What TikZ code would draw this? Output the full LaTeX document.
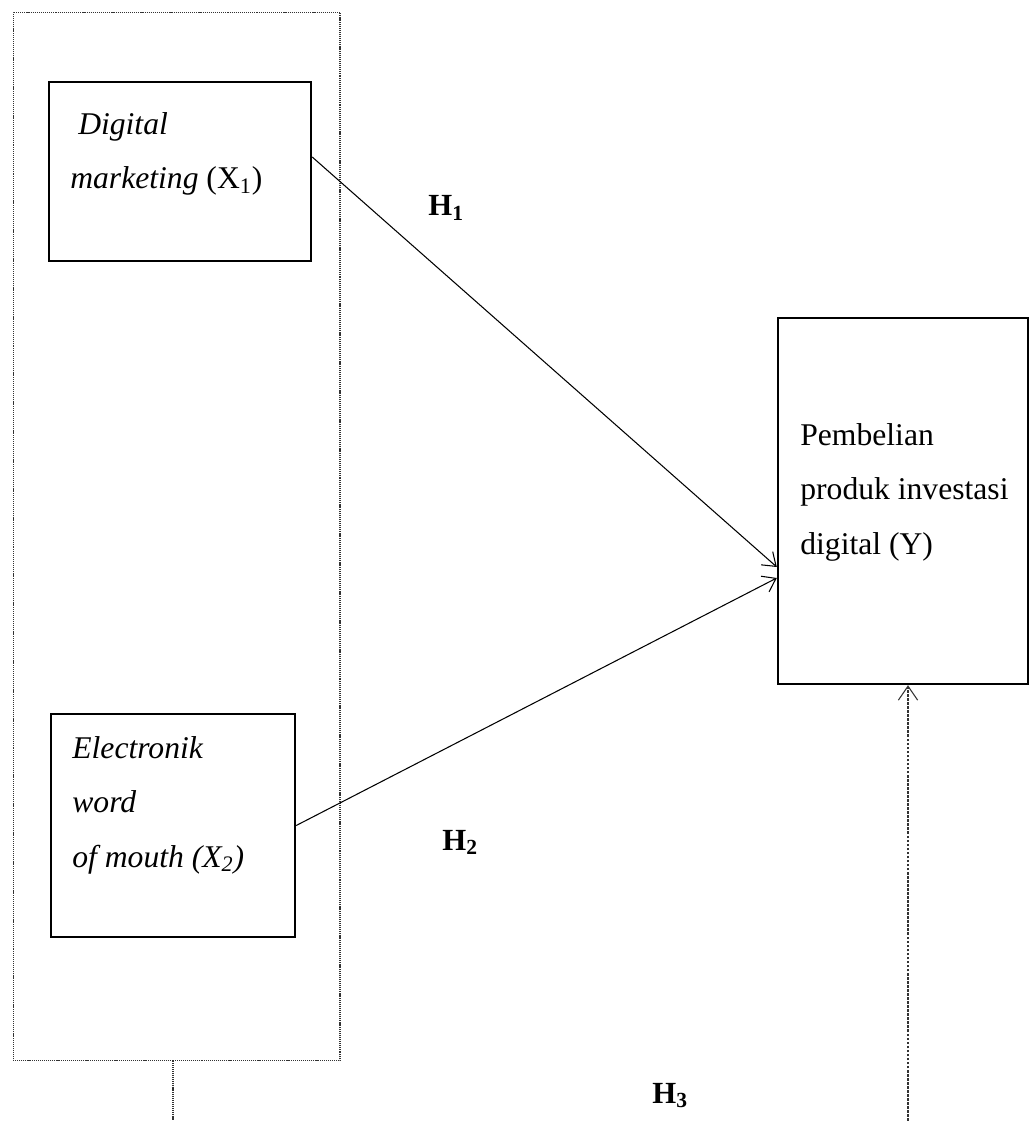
\documentclass[tikz,border=0pt]{standalone}
\usepackage{fontspec}
\setmainfont{Liberation Serif}
\usetikzlibrary{arrows.meta, positioning}

\tikzset{
    varbox/.style={draw, line width=1.4pt, inner sep=0pt},
    vartext/.style={anchor=base west, align=left, inner sep=0pt,
        font=\fontsize{18}{31}\selectfont},
    hyplabel/.style={anchor=base west, inner sep=0pt,
        font=\fontsize{17.5}{20}\selectfont\bfseries},
    link/.style={line width=0.6pt, -{Straight Barb[length=7pt, width=10pt]}},
    dotline/.style={line width=0.6pt, black!80, dash pattern=on 0.6pt off 0.5pt},
}

\begin{document}
\begin{tikzpicture}[x=0.02cm, y=-0.02cm]
    \useasboundingbox (0,0) rectangle (1029,1121);

    % group of independent variables
    \node[dotline, draw, minimum width=6.54cm, minimum height=20.98cm] (group) at (176.5,536.5) {};
    \coordinate (groupend) at (173,1121);
    \draw[dotline] (groupend |- group.south) -- (groupend);

    % variable boxes
    \node[varbox, minimum width=5.24cm, minimum height=3.58cm] (xone) at (180,171.5) {};
    \node[varbox, minimum width=4.88cm, minimum height=4.46cm] (xtwo) at (173,825.5) {};
    \node[varbox, minimum width=5.0cm, minimum height=7.32cm] (yvar) at (903,501) {};

    % texts, placed at the baseline of their last line
    \node[vartext] (xonetext) at (70,189) {\hspace{0.25em}\textit{Digital}\\\textit{marketing} (X\textsubscript{1})};
    \node[vartext] (xtwotext) at (72,867) {\textit{Electronik}\\\textit{word}\\\textit{of mouth (X\textsubscript{2})}};
    \node[vartext] (ytext) at (800,554) {Pembelian\\produk investasi\\digital (Y)};

    % hypotheses
    \draw[link] ([yshift=0.29cm]xone.east) -- ([yshift=-1.32cm]yvar.west);
    \draw[link] (xtwo.east) -- ([yshift=-1.54cm]yvar.west);
    \coordinate (hthreeend) at (908,1121);
    \draw[dotline, line width=0.7pt, dash pattern=on 1.5pt off 0.8pt, -{Straight Barb[length=8pt, width=11pt, line width=0.6pt]}] (hthreeend) -- (hthreeend |- yvar.south);

    \node[hyplabel] (hone) at (428,216) {H\textsubscript{1}};
    \node[hyplabel] (htwo) at (442,850) {H\textsubscript{2}};
    \node[hyplabel] (hthree) at (652,1103) {H\textsubscript{3}};
\end{tikzpicture}
\end{document}
